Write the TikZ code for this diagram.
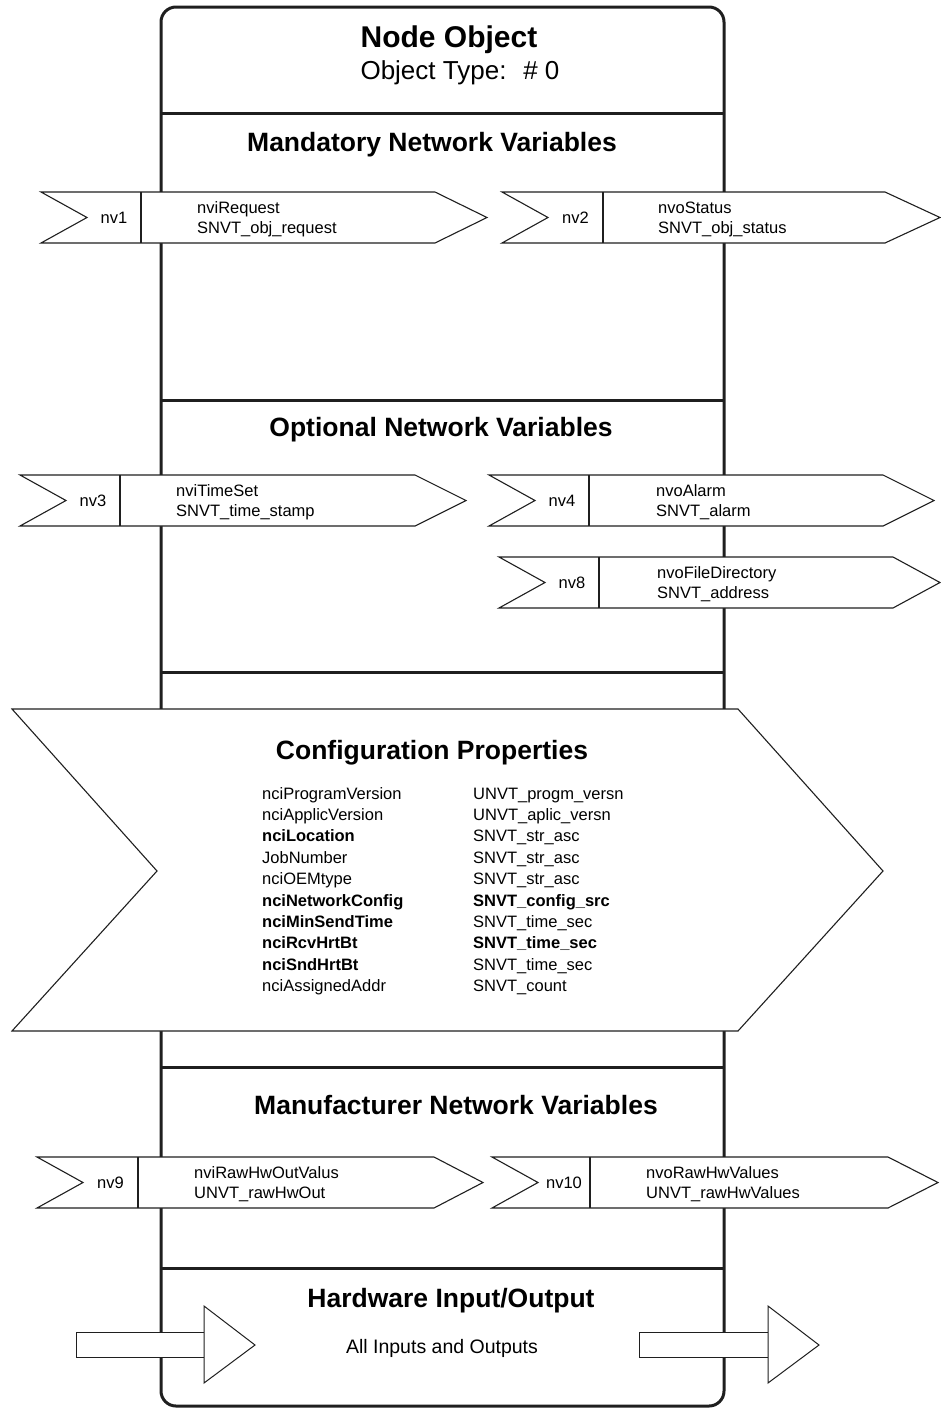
\documentclass[tikz,border=0pt]{standalone}
\usepackage{fontspec}
\setmainfont{Liberation Sans}

\tikzset{
    frame/.style = {line width=3pt, draw=black!88},
    nvline/.style = {line width=1.1pt, draw=black!88, fill=white, line join=miter},
    heading/.style = {font=\fontsize{26.5}{30}\selectfont\bfseries, anchor=base, inner sep=0pt},
    nvtag/.style = {font=\fontsize{16.5}{19.5}\selectfont, inner sep=0pt},
    nvtext/.style = {font=\fontsize{16.5}{19.5}\selectfont, anchor=base west, inner sep=0pt},
}

\begin{document}
\begin{tikzpicture}[x=1pt, y=-1pt]
    \useasboundingbox (0,0) rectangle (941,1409);
    % object frame and section rules
    \draw [frame, rounded corners=15pt] (161,7) rectangle (724,1406);
    \foreach \y in {113,400,672,1067,1268}
        \draw [frame] (161,\y) -- (724,\y);
    % headings
    \node [font=\fontsize{30}{34}\selectfont\bfseries, anchor=base, inner sep=0pt] (title) at (449,47) {Node Object};
    \node [font=\fontsize{26}{30}\selectfont, anchor=base, inner sep=0pt] (objtype) at (460,79) {Object Type: \ \# 0};
    \node [heading] (mandatory) at (432,151.5) {Mandatory Network Variables};
    \node [heading] (optional) at (441,436.5) {Optional Network Variables};
    \node [heading] (manufacturer) at (456,1114.5) {Manufacturer Network Variables};
    \node [heading] (hardware) at (451,1307.5) {Hardware Input/Output};
    \node [font=\fontsize{19.5}{22}\selectfont, anchor=base, inner sep=0pt] (allio) at (442,1353) {All Inputs and Outputs};
    % network variables
    \foreach \tag/\lx/\dx/\rx/\tx/\ty/\nx/\one/\two in {
        nv1/41/141/435/487/192/197/nviRequest/SNVT\_obj\_request,
        nv2/502/603/885/940/192/658/nvoStatus/SNVT\_obj\_status,
        nv3/20/120/415/466/475/176/nviTimeSet/SNVT\_time\_stamp,
        nv4/489/589/883/934/475/656/nvoAlarm/SNVT\_alarm,
        nv8/499/599/893/940/557/657/nvoFileDirectory/SNVT\_address,
        nv9/37/138/434/483/1157/194/nviRawHwOutValus/UNVT\_rawHwOut,
        nv10/492/590/888/938/1157/646/nvoRawHwValues/UNVT\_rawHwValues}
    {
        \draw [nvline] (\lx,\ty) -- (\rx,\ty) -- (\tx,\ty+25.5) -- (\rx,\ty+51)
            -- (\lx,\ty+51) -- (\lx+46,\ty+25.5) -- cycle;
        \draw [nvline] (\dx,\ty) -- (\dx,\ty+51);
        \node [nvtag] (\tag) at ({(\lx+46+\dx)/2},\ty+25.5) {\tag};
        \node [nvtext] (\tag-n) at (\nx,\ty+21.5) {\one};
        \node [nvtext] (\tag-t) at (\nx,\ty+41) {\two};
    }
    % configuration properties
    \draw [nvline] (12,709) -- (738,709) -- (883,871) -- (738,1031) -- (12,1031) -- (157,871) -- cycle;
    \node [heading] (config) at (432,759.5) {Configuration Properties};
    \foreach \lname/\rname [count=\i] in {
        nciProgramVersion/UNVT\_progm\_versn,
        nciApplicVersion/UNVT\_aplic\_versn,
        \textbf{nciLocation}/SNVT\_str\_asc,
        JobNumber/SNVT\_str\_asc,
        nciOEMtype/SNVT\_str\_asc,
        \textbf{nciNetworkConfig}/\textbf{SNVT\_config\_src},
        \textbf{nciMinSendTime}/SNVT\_time\_sec,
        \textbf{nciRcvHrtBt}/\textbf{SNVT\_time\_sec},
        \textbf{nciSndHrtBt}/SNVT\_time\_sec,
        nciAssignedAddr/SNVT\_count}
    {
        \node [nvtext] (cpl\i) at (262,{799+21.4*(\i-1)}) {\lname};
        \node [nvtext] (cpr\i) at (473,{799+21.4*(\i-1)}) {\rname};
    }
    % hardware inputs and outputs
    \draw [nvline, line width=1pt] (76,1332) rectangle (204,1357);
    \draw [nvline, line width=1pt] (204,1306) -- (255,1345) -- (204,1383) -- cycle;
    \draw [nvline, line width=1pt] (639,1332) rectangle (768,1357);
    \draw [nvline, line width=1pt] (768,1306) -- (819,1345) -- (768,1383) -- cycle;
\end{tikzpicture}
\end{document}
